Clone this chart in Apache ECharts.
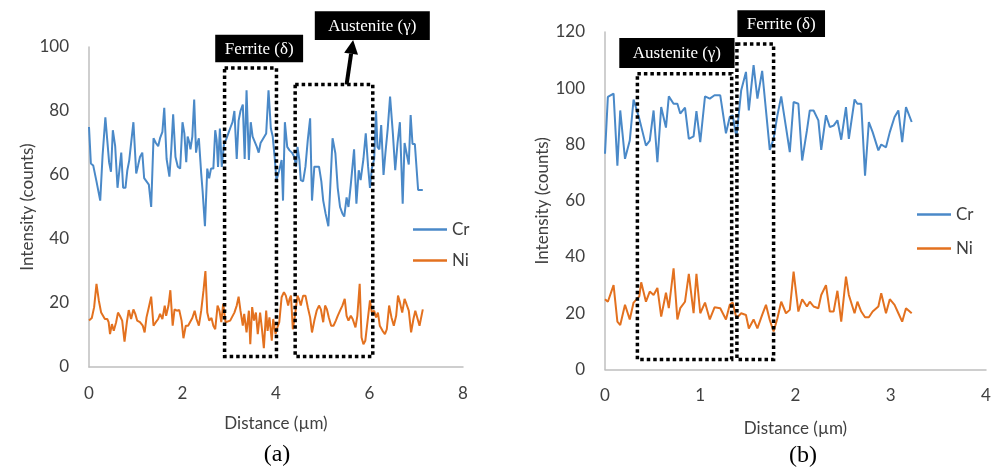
<!DOCTYPE html>
<html>
<head>
<meta charset="utf-8">
<script src="https://cdn.jsdelivr.net/npm/echarts@6/dist/echarts.min.js"></script>
<style>
  html, body { margin: 0; padding: 0; background: #fff; }
  #chart { width: 998px; height: 469px; }
</style>
</head>
<body>
<div id="chart"></div>
<script>
// panel (a): line scan, distance in µm, intensity in counts
const distACr = [0.00,0.04,0.09,0.16,0.24,0.29,0.35,0.39,0.43,0.47,0.51,0.56,0.61,0.65,0.69,0.73,0.78,0.82,0.86,0.90,
  0.95,1.01,1.05,1.09,1.14,1.18,1.22,1.28,1.33,1.38,1.43,1.48,1.52,1.57,1.61,1.66,1.72,1.76,1.80,1.85,
  1.90,1.95,2.00,2.04,2.08,2.11,2.15,2.17,2.21,2.25,2.29,2.32,2.35,2.40,2.43,2.48,2.53,2.57,2.61,2.66,
  2.70,2.73,2.76,2.80,2.84,2.89,2.93,2.98,3.03,3.07,3.11,3.16,3.20,3.24,3.29,3.33,3.37,3.42,3.46,3.50,
  3.54,3.59,3.63,3.67,3.73,3.79,3.84,3.89,3.93,3.97,4.01,4.07,4.12,4.15,4.19,4.24,4.29,4.34,4.39,4.43,
  4.46,4.50,4.53,4.58,4.63,4.68,4.73,4.77,4.82,4.87,4.92,4.97,5.01,5.06,5.12,5.16,5.21,5.27,5.32,5.37,
  5.42,5.46,5.51,5.55,5.60,5.67,5.72,5.77,5.81,5.87,5.92,5.97,6.01,6.05,6.10,6.14,6.17,6.21,6.25,6.30,
  6.34,6.39,6.44,6.50,6.55,6.60,6.65,6.71,6.75,6.79,6.84,6.88,6.92,6.97,7.04,7.14];
const crA = [75,63.6,63,58,52,66,78,71,64,61, 74,69,56,61.5,67,56,56,61.5,64.5,64.5,
  76.5,60.5,63,65.6,67,59,59.6,57,50,71.5, 70,69,71.5,73.5,81,65,59.5,68,79,65.6,
  62.6,62,76.5,73,64,72,70,68,72,83.6, 67,70,71.5,60.5,55,44,62,59,62,62,
  74,71,62.5,74.5,62.5,70,71,73,75,76.5, 80,65,77,80,82,65,86.5,64.7,76.5,72,
  71.5,68.8,67,70,71.5,73,86.5,74.5,72,65.7, 58.4,61.5,64.7,52,76.5,68.8,67.7,67,65.7,62.6,
  68.8,64.7,58.4,58,62.6,71,77.7,52,62.6,62.6, 62.6,58,52,48,44,56,71.5,66.8,56,50,
  48,47,53,50,57,68,51,61.5,58.4,65, 73,62.6,56,62,65,80,68.8,68,75.6,60,
  66.8,74.5,84.5,73,61.5,70,76.5,51,70,70.5, 63.3,78.7,69.7,69.7,55.3,55.3];
const distANi = [0.00,0.06,0.11,0.16,0.21,0.26,0.30,0.34,0.39,0.42,0.45,0.49,0.53,0.58,0.62,0.66,0.71,0.76,0.81,0.85,
  0.90,0.95,0.99,1.03,1.09,1.15,1.19,1.23,1.28,1.33,1.38,1.43,1.48,1.52,1.57,1.62,1.65,1.70,1.74,1.79,
  1.83,1.88,1.93,1.98,2.02,2.07,2.12,2.16,2.21,2.26,2.30,2.35,2.40,2.45,2.49,2.53,2.57,2.62,2.66,2.70,
  2.75,2.79,2.83,2.87,2.92,2.96,3.02,3.06,3.11,3.16,3.20,3.24,3.29,3.32,3.37,3.42,3.45,3.49,3.53,3.57,
  3.61,3.66,3.70,3.74,3.79,3.82,3.86,3.91,3.94,3.99,4.03,4.07,4.12,4.17,4.21,4.26,4.29,4.32,4.36,4.41,
  4.46,4.49,4.53,4.58,4.63,4.68,4.73,4.77,4.82,4.87,4.92,4.96,5.01,5.05,5.09,5.13,5.18,5.23,5.28,5.32,
  5.37,5.42,5.47,5.51,5.55,5.60,5.64,5.70,5.74,5.79,5.83,5.87,5.91,5.95,6.01,6.05,6.10,6.14,6.18,6.22,
  6.28,6.33,6.37,6.42,6.47,6.52,6.57,6.61,6.65,6.70,6.75,6.79,6.84,6.89,6.94,6.98,7.02,7.07,7.14];
const niA = [14.5,15.3,18.7,26,20.8,17,17,15,15,14, 10.3,13.4,11.3,14,17,16,14.5,7.9,14,17.8,
  15,18,16.6,14.5,14,12.9,10.8,15.5,18.7,22, 12.9,14,15,16.6,15,19.2,16,19.2,24,12.9,
  18,17.6,17.8,14.5,9,12.9,12.9,14,15.3,17.6, 15,12.9,17.6,24,30,17,14.5,15.3,12.9,11.8,
  19.2,17.6,14,19.7,14,14,14.5,14.5,17,19.2, 22,17.6,12.9,16.6,10.8,17.6,7.1,18.7,14.5,17,
  10.3,17,11.8,5.9,17.6,11.3,15.5,8.2,15,10.3, 12.4,14,21.8,23.4,22.3,19.2,21.3,22.3,11.8,16.6,
  22.3,21.3,19.2,22.3,22.3,18.7,15.5,10.8,14.5,17.6, 19.2,18,14,19.2,18,15.5,12.9,12.9,14.5,16,
  17.6,19.2,21.3,16,14.5,16,15,12.4,16,26, 9.2,7.1,8.2,8.7,20.8,17,17.6,15.5,17,12.9,
  11.3,10.3,11.8,19.2,15.5,12.9,16,22.3,20.2,17, 21.3,19.7,17.6,10.8,15,17.6,17.6,12.9,18];

// panel (b)
const distB = [0.00,0.03,0.09,0.13,0.16,0.21,0.26,0.30,0.36,0.38,0.43,0.47,0.51,0.55,0.59,0.64,0.67,0.72,0.76,0.79,
  0.84,0.88,0.93,0.96,1.00,1.05,1.10,1.15,1.21,1.27,1.31,1.34,1.38,1.43,1.48,1.51,1.56,1.60,1.65,1.69,
  1.73,1.77,1.81,1.85,1.90,1.94,1.98,2.03,2.07,2.12,2.15,2.19,2.24,2.27,2.32,2.36,2.40,2.44,2.48,2.53,
  2.56,2.62,2.65,2.69,2.73,2.77,2.81,2.87,2.90,2.95,2.99,3.04,3.08,3.12,3.16,3.22];
const crB = [76.7,96.9,98.1,72.5,92.1,74.9,81.4,96,89.2,88.6, 79.6,81.4,92.1,73.7,93.3,86,97.1,94.5,94.5,91,
  93.1,82,82.9,91.9,80.8,97.1,96.3,97.5,97.5,84, 89.8,90.4,82.6,99.3,105.8,92.1,108.2,96.3,106.2,92.1,
  78.1,82,90.4,97.1,86.2,77.3,95.1,94.5,74.3,85, 92.1,92.1,88.6,78.1,90.4,86.2,86.7,88.6,81.7,93.3,
  82,96,94.5,94.5,68.9,88,84.4,77.9,80,79, 84.4,89.8,92.1,80.8,93.3,88];
const niB = [25,24.1,30,17,15.8,23,17.8,23.8,26,31, 24.1,27.7,26.5,29,18.8,27.3,21.8,36,17.8,21.8,
  24.1,34,20,34,20,23.8,17.8,22.1,21.8,17.8, 23,23.8,18.2,20,19.4,14.6,17.8,14.6,19.4,23,
  17.6,13.5,18.2,24.1,20,21.2,34.8,20.6,25,22.4, 24.1,22.4,21.8,26.5,30,20.6,20.6,28,17,33,
  26.5,20,24.1,20.6,18.6,18.6,20.6,22.4,27.1,20, 25,23,20,17,21.8,20];

// dotted phase boxes [x0, x1, y0, y1] and black tags [text, x0, x1, y0, y1], in data units
const boxesA = [[2.90, 4.01, 3.3, 93.4], [4.41, 6.07, 3.3, 88.3]];
const tagsA = [['Ferrite (δ)', 2.70, 4.58, 95.2, 103.8], ['Austenite (γ)', 4.83, 7.29, 102.2, 111.2]];
const arrowA = [[5.51, 88.3], [5.65, 102.2]];
const boxesB = [[0.34, 1.33, 3.6, 105.2], [1.385, 1.77, 3.6, 115.7]];
const tagsB = [['Austenite (γ)', 0.15, 1.36, 107.2, 117.9], ['Ferrite (δ)', 1.39, 2.31, 118.2, 127.7]];

const CR_COLOR = '#4a89c8';
const NI_COLOR = '#e3711f';
const TEXT = '#404040';
const FONT = 'Lato';

const chart = echarts.init(document.getElementById('chart'));

function pairs(xs, ys) {
  return xs.map((x, i) => [x, ys[i]]);
}

function xAxis(gridIndex, max, interval, nameGap) {
  return {
    type: 'value', gridIndex, min: 0, max, interval,
    name: 'Distance (µm)', nameLocation: 'middle', nameGap,
    nameTextStyle: { fontFamily: FONT, fontSize: 17, color: TEXT },
    axisLine: { show: true, lineStyle: { color: '#bfbfbf', width: 1.5 } },
    axisTick: { show: false },
    splitLine: { show: false },
    axisLabel: { fontFamily: FONT, fontSize: 17, color: TEXT, margin: 18 }
  };
}

function yAxis(gridIndex, max, nameGap) {
  return {
    type: 'value', gridIndex, min: 0, max, interval: 20,
    name: 'Intensity (counts)', nameLocation: 'middle', nameGap, nameRotate: 90,
    nameTextStyle: { fontFamily: FONT, fontSize: 17, color: TEXT },
    axisLine: { show: true, lineStyle: { color: '#bfbfbf', width: 1.5 } },
    axisTick: { show: false },
    splitLine: { show: false },
    axisLabel: { fontFamily: FONT, fontSize: 17, color: TEXT, margin: 20 }
  };
}

function lineSeries(name, color, axisIndex, data) {
  return {
    name, type: 'line', xAxisIndex: axisIndex, yAxisIndex: axisIndex,
    symbol: 'none', showSymbol: false, animation: false,
    lineStyle: { color, width: 2 }, itemStyle: { color },
    data
  };
}

// plain short line as the legend key, like the spreadsheet original
function legend(left, top, itemGap) {
  return {
    data: ['Cr', 'Ni'], orient: 'vertical', left, top, itemGap, padding: 0,
    icon: 'rect', itemWidth: 34, itemHeight: 2.5, selectedMode: false,
    textStyle: { fontFamily: FONT, fontSize: 17, color: TEXT }
  };
}

chart.setOption({
  animation: false,
  grid: [
    { left: 89, top: 47, width: 374, height: 320 },
    { left: 605, top: 32, width: 381, height: 337.5 }
  ],
  xAxis: [xAxis(0, 8, 2, 48), xAxis(1, 4, 1, 51)],
  yAxis: [yAxis(0, 100, 50), yAxis(1, 120, 54)],
  legend: [legend(413, 221, 14), legend(917, 206, 17)],
  series: [
    lineSeries('Cr', CR_COLOR, 0, pairs(distACr, crA)),
    lineSeries('Ni', NI_COLOR, 0, pairs(distANi, niA)),
    lineSeries('Cr', CR_COLOR, 1, pairs(distB, crB)),
    lineSeries('Ni', NI_COLOR, 1, pairs(distB, niB))
  ]
});

// annotations placed through the axes of each panel
function px(si, pt) {
  return chart.convertToPixel({ seriesIndex: si }, pt);
}

function rectOf(si, x0, x1, y0, y1) {
  const a = px(si, [x0, y1]);
  const b = px(si, [x1, y0]);
  return { x: a[0], y: a[1], width: b[0] - a[0], height: b[1] - a[1] };
}

function dottedBox(si, b) {
  return {
    type: 'rect', z: 100, shape: rectOf(si, b[0], b[1], b[2], b[3]),
    style: { fill: 'none', stroke: '#000', lineWidth: 3.5, lineDash: [3.5, 3] }
  };
}

function tag(si, t) {
  const r = rectOf(si, t[1], t[2], t[3], t[4]);
  return [
    { type: 'rect', z: 100, shape: r, style: { fill: '#000' } },
    {
      type: 'text', z: 101, x: r.x + r.width / 2, y: r.y + r.height / 2 + 1,
      style: { text: t[0], fill: '#fff', font: '17px "Liberation Serif"', align: 'center', verticalAlign: 'middle' }
    }
  ];
}

function arrow(si, from, to) {
  const a = px(si, from);
  const b = px(si, to);
  const dx = b[0] - a[0], dy = b[1] - a[1];
  const len = Math.hypot(dx, dy);
  const ux = dx / len, uy = dy / len;
  const hl = 14, hw = 7;
  const bx = b[0] - ux * hl, by = b[1] - uy * hl;
  return [
    { type: 'line', z: 100, shape: { x1: a[0], y1: a[1], x2: bx, y2: by }, style: { stroke: '#000', lineWidth: 4 } },
    {
      type: 'polygon', z: 100,
      shape: { points: [[b[0], b[1]], [bx - uy * hw, by + ux * hw], [bx + uy * hw, by - ux * hw]] },
      style: { fill: '#000' }
    }
  ];
}

function caption(text, x, y) {
  return {
    type: 'text', x, y,
    style: { text, fill: '#000', font: '24px "Liberation Serif"', align: 'center', verticalAlign: 'middle' }
  };
}

const elements = [];
boxesA.forEach(b => elements.push(dottedBox(0, b)));
boxesB.forEach(b => elements.push(dottedBox(2, b)));
tagsA.forEach(t => elements.push(...tag(0, t)));
tagsB.forEach(t => elements.push(...tag(2, t)));
elements.push(...arrow(0, arrowA[0], arrowA[1]));
elements.push(caption('(a)', 277, 455));
elements.push(caption('(b)', 803, 456));

chart.setOption({ graphic: { elements } });
</script>
</body>
</html>
